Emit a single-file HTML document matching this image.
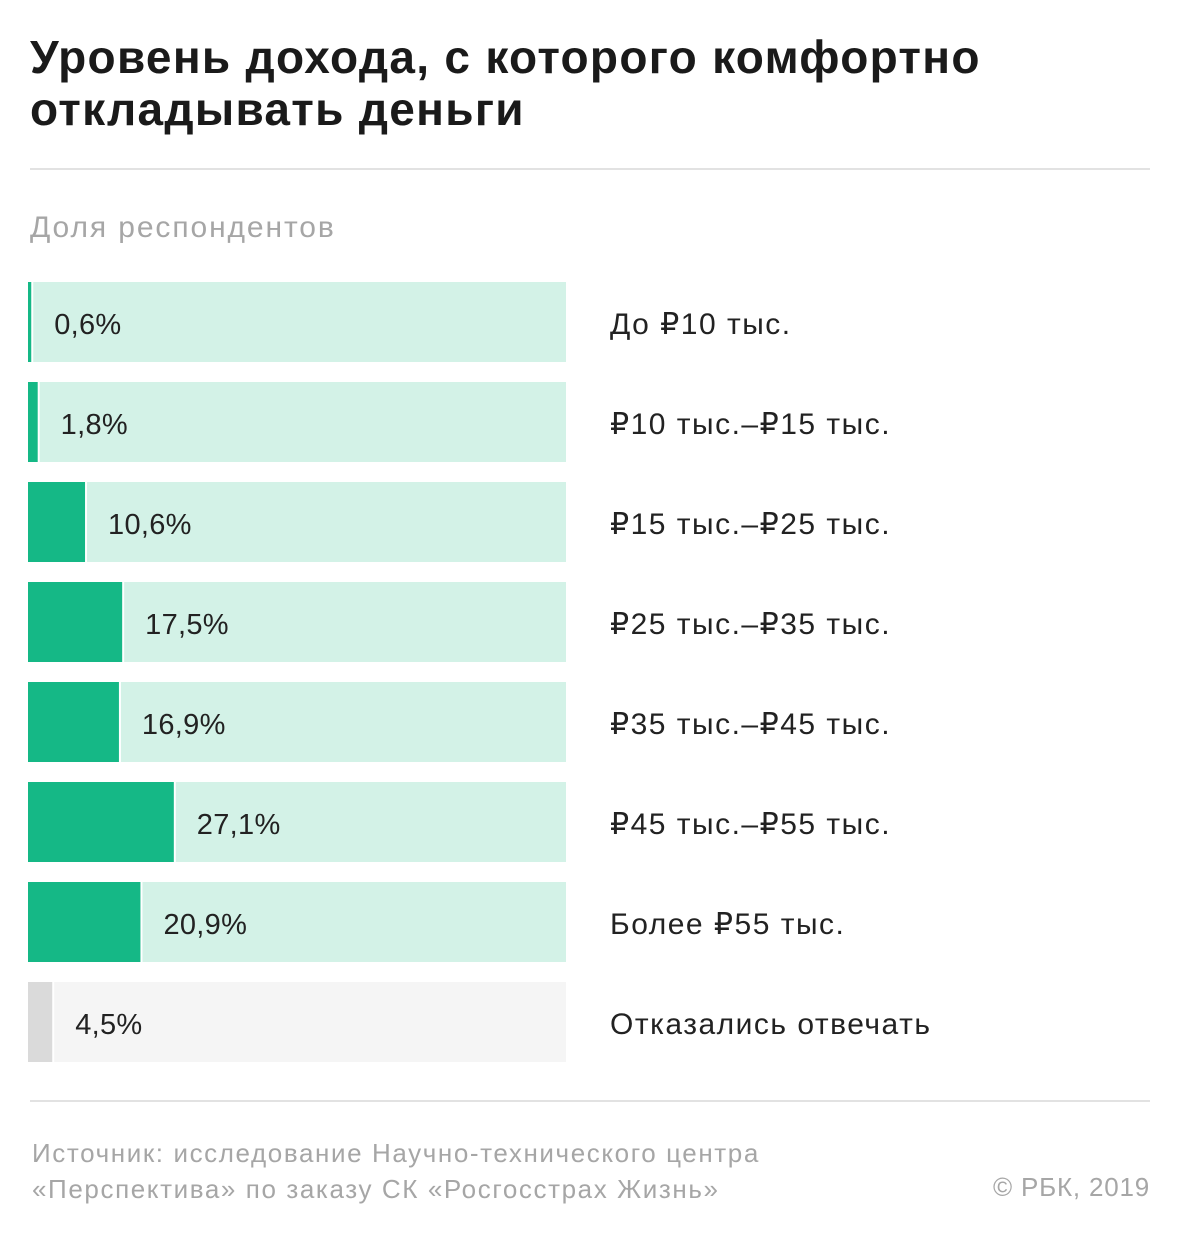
<!DOCTYPE html>
<html><head><meta charset="utf-8"><style>
body{margin:0;width:1180px;height:1240px;background:#fff;font-family:"Liberation Sans","DejaVu Sans",sans-serif;position:relative;overflow:hidden;color:#222}
.title{position:absolute;left:30px;top:31px;font-size:46px;font-weight:bold;line-height:52px;color:#1a1a1a;letter-spacing:1.3px}
.rule{position:absolute;left:30px;width:1120px;height:2px;background:#e2e2e2}
.sub{position:absolute;left:30px;top:211px;font-size:30px;color:#a6a6a6;letter-spacing:1.9px}
.src{position:absolute;left:32px;top:1135px;font-size:26px;line-height:36px;color:#a6a6a6;letter-spacing:1.6px}
.copy{position:absolute;right:30px;top:1172px;font-size:26px;color:#a6a6a6;letter-spacing:0.8px}
</style></head><body>
<div class="title">Уровень дохода, с которого комфортно<br>откладывать деньги</div>
<div class="rule" style="top:168px"></div>
<div class="sub">Доля респондентов</div>
<svg id="chart" width="1180" height="820" style="position:absolute;left:0;top:260px"></svg>
<div class="rule" style="top:1100px"></div>
<div class="src">Источник: исследование Научно-технического центра<br>«Перспектива» по заказу СК «Росгосстрах Жизнь»</div>
<div class="copy">© РБК, 2019</div>
<script>
const categories=["До ₽10 тыс.","₽10 тыс.–₽15 тыс.","₽15 тыс.–₽25 тыс.","₽25 тыс.–₽35 тыс.","₽35 тыс.–₽45 тыс.","₽45 тыс.–₽55 тыс.","Более ₽55 тыс.","Отказались отвечать"];
const values=[0.6,1.8,10.6,17.5,16.9,27.1,20.9,4.5];
const valueLabels=["0,6%","1,8%","10,6%","17,5%","16,9%","27,1%","20,9%","4,5%"];
const svg=document.getElementById('chart');
const NS="http://www.w3.org/2000/svg";
const x0=28,W=538,rowH=100,barH=80,top0=22;
const xs=v=>v/100*W;
const ys=i=>top0+i*rowH;
function mk(t,a){const e=document.createElementNS(NS,t);for(const k in a)e.setAttribute(k,a[k]);svg.appendChild(e);return e;}
values.forEach((v,i)=>{
  const gray=i===values.length-1;
  const y=ys(i),w=xs(v);
  const bg=mk('rect',{x:x0,y:y,width:W,height:barH,fill:gray?'#f5f5f5':'#d3f2e7'});
  
  
  const gap=mk('rect',{x:x0+w,y:y,width:2,height:barH,fill:'#fff'});
  
  
  const b=mk('rect',{x:x0,y:y,width:w,height:barH,fill:gray?'#dadada':'#15b886'});
  
  
  const t=mk('text',{x:x0+w+23,y:y+barH/2+12,'font-size':29,fill:'#222','letter-spacing':0.3});
  t.textContent=valueLabels[i];
  
  
  const c=mk('text',{x:610,y:y+barH/2+12,'font-size':30,fill:'#222','letter-spacing':1.5});
  c.textContent=categories[i];
  
  
});
</script>
</body></html>
